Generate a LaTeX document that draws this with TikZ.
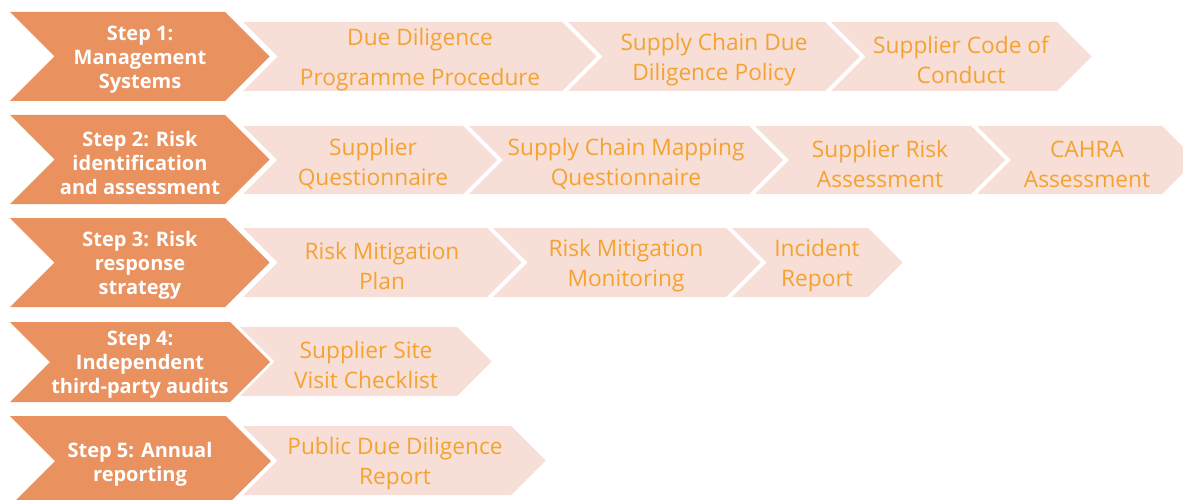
\documentclass[tikz,border=0pt]{standalone}
\usepackage{fontspec}
\setmainfont{Open Sans}
\definecolor{darkor}{RGB}{234,145,96}
\definecolor{lightpk}{RGB}{247,222,214}
\definecolor{txtor}{RGB}{244,163,50}
\tikzset{
  darkchev/.style={fill=darkor, draw=none},
  lightchev/.style={fill=lightpk, draw=none},
  darktext/.style={text=white, align=center, font=\fontsize{20}{24}\selectfont\bfseries, inner sep=0pt, yshift=-3pt},
  lighttext/.style={text=txtor, align=center, font=\fontsize{22.7}{30}\selectfont, inner sep=0pt, yshift=-3pt},
}
% #1 style, #2 left x, #3 top-right x, #4 top y, #5 bottom y
\newcommand\chevshape[5]{%
  \pgfmathsetmacro\hh{(#5-#4)/2}%
  \pgfmathsetmacro\ym{(#5+#4)/2}%
  \fill[#1] (#2,#4) -- (#3,#4) -- ({#3+\hh},\ym) -- (#3,#5) -- (#2,#5) -- ({#2+\hh},\ym) -- cycle;%
}
\begin{document}
\begin{tikzpicture}[x=1pt,y=-1pt]
\useasboundingbox (0,0) rectangle (1183,500);
\begin{scope}
\clip (0,0) rectangle (1183,500);
% Row 1
\chevshape{darkchev}{10}{225}{12}{101}
\chevshape{lightchev}{243}{562}{22}{91}
\chevshape{lightchev}{568}{825}{22}{91}
\chevshape{lightchev}{831}{1057}{22}{91}
% Row 2
\chevshape{darkchev}{10}{225}{115}{204}
\chevshape{lightchev}{243}{463}{126}{194}
\chevshape{lightchev}{469}{749}{126}{194}
\chevshape{lightchev}{755}{971}{126}{194}
\chevshape{lightchev}{977}{1162}{126}{194}
% Row 3
\chevshape{darkchev}{10}{225}{218}{307}
\chevshape{lightchev}{243}{487}{228}{297}
\chevshape{lightchev}{493}{726}{228}{297}
\chevshape{lightchev}{732}{868}{228}{297}
% Row 4
\chevshape{darkchev}{10}{230}{322}{402}
\chevshape{lightchev}{240}{457}{327}{396}
% Row 5
\chevshape{darkchev}{10}{226}{416}{506}
\chevshape{lightchev}{243}{511}{426}{495}
\end{scope}
% Texts
\node[darktext] (s1) at (140,57) {Step 1:\\Management\\Systems};
\node[darktext] (s2) at (140,159.5) {Step 2: Risk\\identification\\and assessment};
\node[darktext] (s3) at (140,262.5) {Step 3: Risk\\response\\strategy};
\node[darktext] (s4) at (140,362) {Step 4:\\Independent\\third-party audits};
\node[darktext] (s5) at (140,461) {Step 5: Annual\\reporting};
\node[lighttext] (a1) at (420,57) {Due Diligence\\[10pt]Programme Procedure};
\node[lighttext] (a2) at (714,57) {Supply Chain Due\\Diligence Policy};
\node[lighttext] (a3) at (961,57) {Supplier Code of\\Conduct};
\node[lighttext] (b1) at (373,161) {Supplier\\Questionnaire};
\node[lighttext] (b2) at (626,161) {Supply Chain Mapping\\Questionnaire};
\node[lighttext] (b3) at (880,161) {Supplier Risk\\Assessment};
\node[lighttext] (b4) at (1087,161) {CAHRA\\Assessment};
\node[lighttext] (c1) at (382,263) {Risk Mitigation\\Plan};
\node[lighttext] (c2) at (626,263) {Risk Mitigation\\Monitoring};
\node[lighttext] (c3) at (817,263) {Incident\\Report};
\node[lighttext] (d1) at (366,362) {Supplier Site\\Visit Checklist};
\node[lighttext] (e1) at (395,461) {Public Due Diligence\\Report};
\end{tikzpicture}
\end{document}
